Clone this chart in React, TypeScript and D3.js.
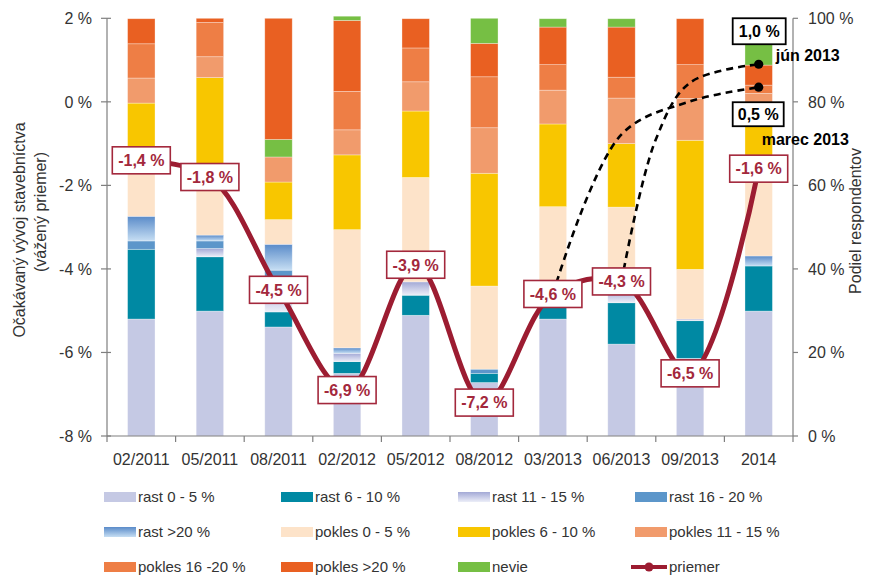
import React from "react";
import * as d3 from "d3";

// ---------- data ----------
const categories = ["02/2011", "05/2011", "08/2011", "02/2012", "05/2012", "08/2012", "03/2013", "06/2013", "09/2013", "2014"];

const rast05 = [28, 29.9, 26.1, 15, 28.9, 12.8, 28, 22, 18.6, 29.9];
const rast610 = [16.7, 13, 3.6, 2.8, 4.8, 2.2, 2.9, 9.9, 9, 10.8];
const rast1115 = [0, 2, 6.4, 2, 3.2, 0, 1, 3, 0.4, 0];
const rast1620 = [2, 1.8, 3.6, 0, 0, 1, 0, 0, 0, 0];
const rastOver20 = [5.9, 1.4, 6.2, 1.3, 0, 0, 0, 0, 0, 2.4];
const pokles05 = [14.6, 15.1, 5.9, 28.3, 25, 19.9, 23, 19.9, 11.9, 23.4];
const pokles610 = [12.5, 22.6, 9, 17.9, 15.9, 27, 19.8, 15.2, 30.9, 8.6];
const pokles1115 = [6, 5, 6, 6, 7, 10.9, 8.1, 10.9, 10, 6.9];
const pokles1620 = [8.2, 8.2, 4.2, 9.2, 8.1, 12.2, 6.1, 5, 8.1, 2];
const poklesOver20 = [6, 1, 29, 17, 7, 8, 9, 12, 11, 4.8];
const nevie = [0, 0, 0, 1, 0, 6, 2, 2, 0, 11.2];

const priemer = [-1.4, -1.8, -4.5, -6.9, -3.9, -7.2, -4.6, -4.3, -6.5, -1.6];

// forecast curves (category index, value)
const marecIdx = [6, 7, 8, 9];
const marecVal = [-4.6, -0.78, 0.01, 0.35];
const junIdx = [7, 7.5, 8, 9];
const junVal = [-4.3, -0.9, 0.46, 0.9];
const forecastLabels = ["1,0 %", "0,5 %"];
const forecastNames = ["jún 2013", "marec 2013"];

const leftTicks = [2, 0, -2, -4, -6, -8];
const rightTicks = [100, 80, 60, 40, 20, 0];

const seriesKeys = [
  "rast 0 - 5 %", "rast 6 - 10 %", "rast 11 - 15 %", "rast 16 - 20 %", "rast >20 %",
  "pokles 0 - 5 %", "pokles 6 - 10 %", "pokles 11 - 15 %", "pokles 16 -20 %", "pokles >20  %", "nevie",
];
const seriesArrays = [rast05, rast610, rast1115, rast1620, rastOver20, pokles05, pokles610, pokles1115, pokles1620, poklesOver20, nevie];

// ---------- styles ----------
const fills: Record<string, string> = {
  "rast 0 - 5 %": "#c5c9e4",
  "rast 6 - 10 %": "#0089a3",
  "rast 11 - 15 %": "url(#g1115)",
  "rast 16 - 20 %": "#5c96ca",
  "rast >20 %": "url(#g20)",
  "pokles 0 - 5 %": "#fde3c9",
  "pokles 6 - 10 %": "#f8c600",
  "pokles 11 - 15 %": "#f19b6c",
  "pokles 16 -20 %": "#ee7e45",
  "pokles >20  %": "#e96022",
  nevie: "#76bf44",
};
// one point in the original is coloured like "nevie"
const cellOverride: Record<string, string> = { "08/2011|pokles 16 -20 %": "#76bf44" };

const RED = "#9c1c31";
const FONT = "'Liberation Sans', Arial, sans-serif";
const W = 869, H = 576;
const L = 107, R = 793, T = 18.3, B = 436;

export default function App() {
  const x = d3.scaleBand<string>().domain(categories).range([L, R]).paddingInner(0.6).paddingOuter(0.3);
  const yL = d3.scaleLinear().domain([-8, 2]).range([B, T]);
  const yR = d3.scaleLinear().domain([0, 100]).range([B, T]);
  const xi = d3.scaleLinear().domain([0, categories.length - 1])
    .range([x(categories[0])! + x.bandwidth() / 2, x(categories[categories.length - 1])! + x.bandwidth() / 2]);

  const rows = categories.map((c, i) => {
    const r: any = { cat: c };
    seriesKeys.forEach((k, j) => (r[k] = seriesArrays[j][i]));
    return r;
  });
  const stacked = d3.stack<any>().keys(seriesKeys)(rows);

  const smooth = d3.line<[number, number]>().x((d) => d[0]).y((d) => d[1]).curve(d3.curveCatmullRom.alpha(0.5));
  const mainPts: [number, number][] = priemer.map((v, i) => [xi(i), yL(v)]);
  const marecPts: [number, number][] = marecIdx.map((k, i) => [xi(k), yL(marecVal[i])]);
  const junPts: [number, number][] = junIdx.map((k, i) => [xi(k), yL(junVal[i])]);
  const junEnd = junPts[junPts.length - 1];
  const marEnd = marecPts[marecPts.length - 1];

  const fmt = (v: number) => d3.format(".1f")(v).replace(".", ",").replace("−", "-") + " %";

  const legendItems = [...seriesKeys, "priemer"];
  const colX = [104, 281, 458, 635];
  const rowY = [497, 532, 567];

  return (
    <svg width={W} height={H} style={{ position: "absolute", left: 0, top: 0, background: "#fff" }} fontFamily={FONT}>
      <defs>
        <linearGradient id="g1115" x1="0" y1="0" x2="0" y2="1">
          <stop offset="0" stopColor="#a3a9d6" />
          <stop offset="1" stopColor="#eceef8" />
        </linearGradient>
        <linearGradient id="g20" x1="0" y1="0" x2="0" y2="1">
          <stop offset="0" stopColor="#5a8bc9" />
          <stop offset="1" stopColor="#c6def3" />
        </linearGradient>
      </defs>

      {/* bars */}
      {stacked.map((s) => (
        <g key={s.key}>
          {s.map((d, i) => {
            const h = yR(d[0]) - yR(d[1]);
            if (h <= 0) return null;
            const fill = cellOverride[categories[i] + "|" + s.key] || fills[s.key];
            return (
              <rect key={i} x={x(categories[i])} y={yR(d[1])} width={x.bandwidth()} height={h}
                fill={fill} stroke="#ffffff" strokeOpacity={0.45} strokeWidth={0.7} />
            );
          })}
        </g>
      ))}

      {/* axes */}
      <g stroke="#7f7f7f" strokeWidth={1.2} fill="none">
        <line x1={L} y1={T} x2={L} y2={B} />
        <line x1={R} y1={T} x2={R} y2={B} />
        <line x1={L} y1={B} x2={R} y2={B} />
        {leftTicks.map((t) => <line key={"l" + t} x1={L - 6} x2={L + 4} y1={yL(t)} y2={yL(t)} />)}
        {rightTicks.map((t) => <line key={"r" + t} x1={R} x2={R + 5} y1={yR(t)} y2={yR(t)} />)}
        {categories.map((c, i) => {
          const xx = x(c)! - (x.step() * x.paddingInner()) / 2;
          return <line key={"b" + i} x1={xx} x2={xx} y1={B} y2={B + 6} />;
        })}
        <line x1={R} x2={R} y1={B} y2={B + 6} />
      </g>
      <g fill="#333" fontSize={16}>
        {leftTicks.map((t) => (
          <text key={"lt" + t} x={92} y={yL(t)} dy="0.36em" textAnchor="end">{t + " %"}</text>
        ))}
        {rightTicks.map((t) => (
          <text key={"rt" + t} x={808} y={yR(t)} dy="0.36em">{t + " %"}</text>
        ))}
        {categories.map((c) => (
          <text key={"ct" + c} x={x(c)! + x.bandwidth() / 2} y={465} textAnchor="middle">{c}</text>
        ))}
        <text transform="translate(25,230) rotate(-90)" textAnchor="middle">Očakávaný vývoj stavebníctva</text>
        <text transform="translate(46,212) rotate(-90)" textAnchor="middle">(vážený priemer)</text>
        <text transform="translate(861,221) rotate(-90)" textAnchor="middle">Podiel respondentov</text>
      </g>

      {/* forecast dashed curves */}
      <path d={smooth(marecPts)!} fill="none" stroke="#000" strokeWidth={2.6} strokeDasharray="7,5" />
      <path d={smooth(junPts)!} fill="none" stroke="#000" strokeWidth={2.6} strokeDasharray="7,5" />

      {/* main line */}
      <path d={smooth(mainPts)!} fill="none" stroke={RED} strokeWidth={5} strokeLinejoin="round" />
      {mainPts.map((p, i) => (
        <g key={"lab" + i}>
          <rect x={p[0] - 29} y={p[1] - 13.5} width={58} height={27} fill="#fff" stroke="#a3283c" strokeWidth={1.6} />
          <text x={p[0]} y={p[1]} dy="0.36em" textAnchor="middle" fontWeight="bold" fontSize={16} fill="#a3283c">
            {fmt(priemer[i])}
          </text>
        </g>
      ))}

      {/* forecast annotations */}
      <circle cx={junEnd[0]} cy={junEnd[1]} r={4.6} fill="#000" />
      <circle cx={marEnd[0]} cy={marEnd[1]} r={4.6} fill="#000" />
      <g fontWeight="bold" fontSize={16} fill="#000">
        <rect x={junEnd[0] - 26} y={junEnd[1] - 46} width={53} height={26} fill="#fff" stroke="#000" strokeWidth={1.8} />
        <text x={junEnd[0] + 0.5} y={junEnd[1] - 33} dy="0.36em" textAnchor="middle">{forecastLabels[0]}</text>
        <text x={junEnd[0] + 17} y={junEnd[1] - 3}>{forecastNames[0]}</text>
        <rect x={marEnd[0] - 26} y={marEnd[1] + 15} width={51} height={24} fill="#fff" stroke="#000" strokeWidth={1.8} />
        <text x={marEnd[0] - 0.5} y={marEnd[1] + 27} dy="0.36em" textAnchor="middle">{forecastLabels[1]}</text>
        <text x={marEnd[0] + 3} y={marEnd[1] + 58}>{forecastNames[1]}</text>
      </g>

      {/* legend */}
      <g fontSize={15} fill="#333">
        {legendItems.map((k, i) => {
          const cx = colX[i % 4];
          const cy = rowY[Math.floor(i / 4)];
          return (
            <g key={"lg" + k}>
              {k === "priemer" ? (
                <g>
                  <line x1={cx - 4} x2={cx + 32} y1={cy} y2={cy} stroke={RED} strokeWidth={4} />
                  <circle cx={cx + 14} cy={cy} r={4.5} fill={RED} />
                </g>
              ) : (
                <rect x={cx} y={cy - 5} width={32} height={10} fill={fills[k]} />
              )}
              <text x={cx + 34} y={cy} dy="0.36em">{k}</text>
            </g>
          );
        })}
      </g>
    </svg>
  );
}
